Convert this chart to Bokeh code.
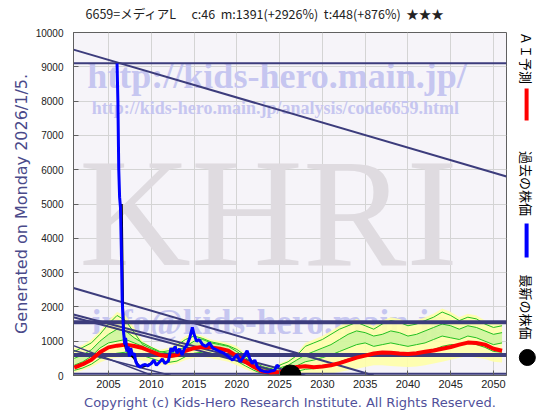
import math
from bokeh.plotting import figure
from bokeh.models import Range1d, FixedTicker, Title
from bokeh.layouts import row, column
from bokeh.embed import file_html
from bokeh.resources import INLINE
from bokeh.core.properties import value

# ---------------- data ----------------
x_ticks = [2005, 2010, 2015, 2020, 2025, 2030, 2035, 2040, 2045, 2050]
y_ticks = [0, 1000, 2000, 3000, 4000, 5000, 6000, 7000, 8000, 9000, 10000]

pred_years = list(range(2001, 2052))
ai_pred = [230, 330, 460, 680, 820, 870, 900, 860, 800, 700, 600, 560, 600, 720, 800, 830, 820, 780,
           720, 560, 400, 250, 120, 90, 100, 150, 250, 270, 240, 260, 300, 360, 440, 520, 580, 640,
           670, 660, 640, 630, 650, 690, 730, 780, 830, 900, 960, 950, 900, 780, 720]
band_hi = [800, 900, 1050, 1300, 1600, 1850, 1750, 1400, 1000, 850, 750, 800, 950, 1150, 1250, 1150,
           1050, 1000, 950, 850, 650, 450, 300, 250, 350, 450, 650, 950, 1050, 1150, 1300, 1450, 1550,
           1650, 1550, 1450, 1600, 1700, 1650, 1550, 1600, 1700, 1800, 1950, 1850, 1700, 1800, 1750,
           1600, 1500, 1550]
band_lo = [80, 150, 250, 380, 480, 520, 540, 500, 440, 380, 320, 300, 350, 450, 520, 540, 500, 450,
           400, 300, 180, 80, 20, 0, 0, 0, 20, 40, 30, 40, 60, 100, 150, 200, 250, 300, 300, 280, 260,
           250, 260, 300, 350, 400, 460, 520, 560, 520, 480, 400, 380]
member_1 = [700, 820, 950, 1200, 1500, 1750, 1600, 1250, 900, 780, 680, 720, 880, 1050, 1150, 1080,
            980, 930, 870, 760, 580, 400, 260, 200, 300, 400, 580, 850, 950, 1050, 1200, 1350, 1450,
            1550, 1450, 1350, 1500, 1600, 1550, 1450, 1500, 1600, 1700, 1850, 1750, 1600, 1700, 1650,
            1500, 1400, 1450]
member_2 = [500, 600, 750, 1000, 1200, 1350, 1300, 1100, 950, 820, 700, 650, 700, 850, 1000, 1050,
            950, 900, 850, 700, 520, 350, 200, 150, 220, 300, 450, 600, 700, 800, 900, 1050, 1200,
            1300, 1250, 1150, 1200, 1300, 1250, 1150, 1200, 1300, 1400, 1500, 1450, 1350, 1450, 1400,
            1300, 1200, 1250]
member_3 = [300, 400, 560, 800, 950, 1000, 1050, 950, 850, 700, 580, 520, 560, 700, 820, 850, 820,
            760, 700, 550, 380, 230, 100, 60, 80, 150, 280, 400, 450, 520, 600, 700, 800, 900, 950,
            850, 900, 950, 900, 850, 900, 950, 1050, 1150, 1100, 1050, 1150, 1100, 1000, 900, 950]
member_4 = [150, 220, 330, 500, 600, 650, 680, 640, 580, 500, 420, 380, 420, 550, 650, 680, 650, 600,
            550, 420, 280, 150, 50, 20, 30, 60, 120, 180, 200, 250, 320, 400, 480, 560, 620, 600, 620,
            650, 620, 600, 620, 680, 750, 850, 900, 900, 950, 900, 820, 700, 680]

past_x = [2006.0, 2006.1, 2006.2, 2006.3, 2006.4, 2006.5, 2006.6, 2006.75, 2006.9, 2007.0, 2007.15,
          2007.3, 2007.45, 2007.6, 2007.8, 2008.0, 2008.2, 2008.4, 2008.7, 2009.0, 2009.3, 2009.6,
          2010.0, 2010.3, 2010.6, 2011.0, 2011.3, 2011.6, 2012.0, 2012.3, 2012.5, 2012.8, 2013.0,
          2013.3, 2013.6, 2013.9, 2014.2, 2014.5, 2014.8, 2015.0, 2015.3, 2015.6, 2016.0, 2016.4,
          2016.8, 2017.2, 2017.6, 2018.0, 2018.5, 2019.0, 2019.5, 2020.0, 2020.4, 2020.8, 2021.2,
          2021.5, 2021.8, 2022.1, 2022.4, 2022.8, 2023.2, 2023.6, 2024.0, 2024.4, 2024.7, 2025.0]
past_y = [9100, 8000, 6000, 5200, 4900, 3700, 2200, 1300, 900, 1100, 700, 850, 550, 800, 600, 650,
          400, 300, 250, 300, 320, 280, 350, 450, 300, 400, 480, 350, 420, 800, 700, 850, 650, 780,
          600, 800, 900, 1100, 1400, 1200, 1000, 1050, 900, 850, 950, 800, 750, 700, 650, 550, 450,
          600, 400, 550, 720, 500, 350, 450, 250, 150, 120, 100, 130, 150, 300, 250]
raw_x = [2006.55, 2006.6, 2006.7, 2006.8, 2007.0, 2007.3, 2007.6, 2008.0, 2008.5, 2009.0, 2009.5, 2010.0]
raw_y = [5000, 4000, 2000, 1200, 800, 700, 600, 500, 300, 250, 300, 350]

latest_x = [2026.27]
latest_y = [0]

level_values = [9100, 1550, 600, 50]
level_widths = [2, 4, 4, 2]
trend_x0 = [2000.91, 2000.91, 2000.91, 2000.91, 2000.91, 2000.91]
trend_y0 = [9500, 2550, 1780, 1700, 870, 730]
trend_x1 = [2051.52, 2036.0, 2028.0, 2026.5, 2010.1, 2012.3]
trend_y1 = [5800, 0, 0, 0, 0, 0]
trend_widths = [2, 2, 2, 2, 1.5, 1.5]

legend_labels = ["ＡＩ予測", "過去の株価", "最新の株価"]
legend_label_y = [9257, 5598, 1997]
legend_bar_y0 = [8367, 4431]
legend_bar_y1 = [7434, 3440]
legend_bar_colors = ["#ff0000", "#0000ff"]

NB = "\u00a0"
title_text = ("6659=メディアL\u3000" + NB + "c:46" + NB * 2 + "m:1391(+2926%)" + NB * 2 +
              "t:448(+876%)" + NB * 2 + "★★★")

X0, X1 = 2000.91, 2051.52
NAVY = "#3c3c7c"
TOP_H = 24
H = 415 - TOP_H

# ---------------- title strip ----------------
tf = figure(width=552, height=TOP_H, x_range=Range1d(0, 552), y_range=Range1d(0, TOP_H),
            output_backend="svg", toolbar_location=None, title=None,
            x_axis_location=None, y_axis_location=None, min_border=0,
            background_fill_color="white", border_fill_color="white")
tf.outline_line_color = None
tf.grid.visible = False
tf.text(x=[85], y=[11], text=[title_text], text_font=value("Noto Sans CJK JP"),
        text_font_size="12.5px", text_color="#222222", text_align="left", text_baseline="middle")

# ---------------- main chart ----------------
p = figure(width=515, height=H, x_range=Range1d(X0, X1), y_range=Range1d(0, 10000),
           output_backend="svg", toolbar_location=None, title=None,
           min_border_left=73, min_border_right=9, min_border_top=32 - TOP_H, min_border_bottom=40,
           background_fill_color="#f6f4f9", border_fill_color="white")
p.outline_line_color = "#606060"
for ax in (p.xaxis, p.yaxis):
    ax.axis_line_color = "#606060"
    ax.major_tick_line_color = "#606060"
    ax.minor_tick_line_color = None
    ax.major_tick_in = 5
    ax.major_tick_out = 0
    ax.major_label_text_color = "#222222"
    ax.major_label_text_font = "Liberation Sans"
p.xaxis.ticker = FixedTicker(ticks=x_ticks)
p.yaxis.ticker = FixedTicker(ticks=y_ticks)
p.xaxis.major_label_text_font_size = "11px"
p.yaxis.major_label_text_font_size = "10px"
p.xaxis.major_label_standoff = 4
p.yaxis.major_label_standoff = 10
p.grid.grid_line_color = "#d4d4d4"

p.add_layout(Title(text="Generated on Monday 2026/1/5.", text_font="DejaVu Sans",
                   text_font_size="16px", text_font_style="normal", text_color="#4a4a8a",
                   align="center", standoff=4), "left")
p.add_layout(Title(text="Copyright (c) Kids-Hero Research Institute. All Rights Reserved.",
                   text_font="DejaVu Sans", text_font_size="13px", text_font_style="normal",
                   text_color="#50509a", align="center", standoff=4), "below")

# watermarks
def wm(x, y, t, size, color):
    p.text(x=[x], y=[y], text=[t], text_font=value("Liberation Serif"), text_font_size=size,
           text_font_style="bold", text_color=color, text_align="center", text_baseline="middle")

p.text(x=[2023.7], y=[4752], text=["KHRI"], text_font=value("Liberation Serif"),
       text_font_size="155px", text_color="#dfdbe0", text_align="center", text_baseline="middle")
wm(2024.7, 8746, "http://kids-hero.main.jp/", "36px", "#c6c6f0")
wm(2024.5, 7813, "http://kids-hero.main.jp/analysis/code6659.html", "18px", "#c6c6f0")
wm(2023.9, 1545, "info@kids-hero.main.jp", "35px", "#c6c6f0")

# prediction band
p.varea(x=pred_years, y1=band_lo, y2=band_hi, fill_color="#ffffa8", fill_alpha=0.9)
p.varea(x=pred_years, y1=member_3, y2=member_2, fill_color="#b8f098", fill_alpha=0.6)
for m in (member_1, member_2, member_3, member_4):
    p.line(pred_years, m, line_color="#22c022", line_width=1)

# support / trend lines
n = len(level_values)
p.segment(x0=[X0] * n, y0=level_values, x1=[X1] * n, y1=level_values,
          line_color=NAVY, line_width=level_widths)
p.segment(x0=trend_x0, y0=trend_y0, x1=trend_x1, y1=trend_y1, line_color=NAVY, line_width=trend_widths)

# AI prediction
p.line(pred_years, ai_pred, line_color="#ff0000", line_width=4)

# past prices
p.line(raw_x, raw_y, line_color="black", line_width=2)
p.line(past_x, past_y, line_color="#0000ff", line_width=3)

# latest price dot
p.scatter(latest_x, latest_y, size=21, color="black")

# ---------------- right-hand legend ----------------
lg = figure(width=37, height=H, x_range=Range1d(0, 1), y_range=Range1d(0, 10000),
            output_backend="svg", toolbar_location=None, title=None,
            x_axis_location=None, y_axis_location=None,
            min_border_left=0, min_border_right=0, min_border_top=32 - TOP_H, min_border_bottom=40,
            background_fill_color="white", border_fill_color="white")
lg.outline_line_color = None
lg.grid.visible = False
lg.text(x=[0.3] * 3, y=legend_label_y, text=legend_labels, angle=-math.pi / 2,
        text_font=value("Noto Sans CJK JP"), text_font_size="13px", text_color="black",
        text_align="center", text_baseline="middle")
lg.segment(x0=[0.3] * 2, y0=legend_bar_y0, x1=[0.3] * 2, y1=legend_bar_y1,
           line_color=legend_bar_colors, line_width=4)
lg.scatter([0.32], [525], size=16, color="black")

layout = column(tf, row(p, lg, spacing=0), spacing=0)
open("out.html", "w").write(file_html(layout, INLINE))
